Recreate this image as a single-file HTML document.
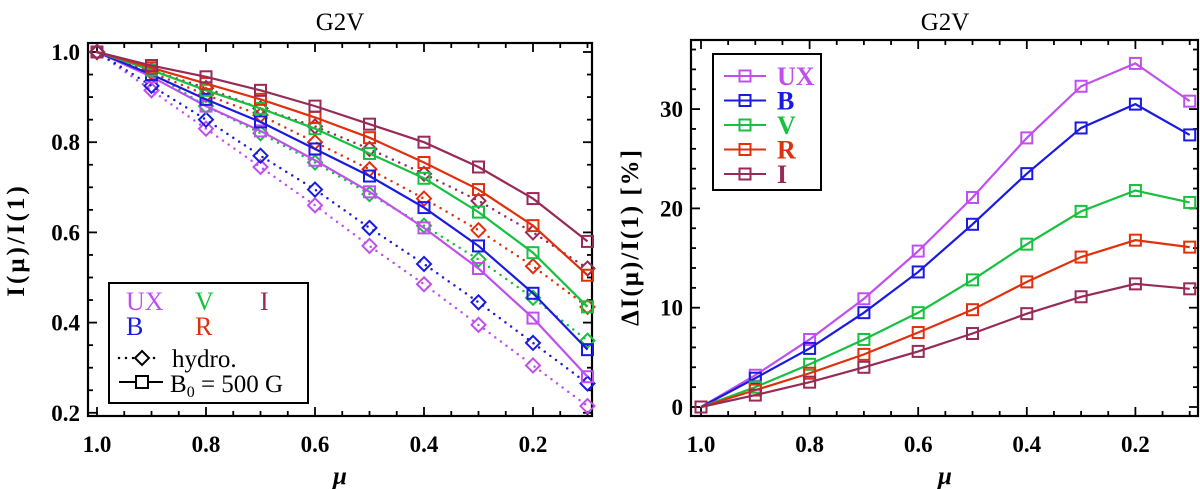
<!DOCTYPE html>
<html><head><meta charset="utf-8"><style>
body{margin:0;background:#fff}
svg{display:block}
text{font-family:"Liberation Serif",serif;fill:#000}
</style></head><body>
<svg id="chart" width="1200" height="489" viewBox="0 0 1200 489" xmlns="http://www.w3.org/2000/svg"></svg>
<script>
const mu = [1.0,0.9,0.8,0.7,0.6,0.5,0.4,0.3,0.2,0.1];
const bandNames = ["UX","B","V","R","I"];
const bandColors = ["#c050ee","#1a1ae0","#18c040","#e0300e","#982a58"];
const magUX = [1,0.945,0.88,0.825,0.76,0.69,0.61,0.52,0.41,0.28];
const magB  = [1,0.95,0.895,0.845,0.785,0.725,0.655,0.57,0.465,0.34];
const magV  = [1,0.96,0.915,0.875,0.83,0.775,0.72,0.645,0.555,0.435];
const magR  = [1,0.965,0.93,0.895,0.855,0.81,0.755,0.695,0.615,0.505];
const magI  = [1,0.97,0.945,0.915,0.88,0.84,0.80,0.745,0.675,0.58];
const hydUX = [1,0.915,0.83,0.745,0.66,0.57,0.485,0.395,0.305,0.215];
const hydB  = [1,0.925,0.85,0.77,0.695,0.61,0.53,0.445,0.355,0.265];
const hydV  = [1,0.955,0.88,0.82,0.755,0.685,0.615,0.54,0.455,0.36];
const hydR  = [1,0.955,0.905,0.86,0.80,0.74,0.675,0.605,0.525,0.435];
const hydI  = [1,0.96,0.92,0.875,0.835,0.785,0.73,0.67,0.60,0.52];
const dUX = [0,3.2,6.8,10.9,15.7,21.1,27.1,32.3,34.6,30.8];
const dB  = [0,2.9,5.9,9.5,13.6,18.4,23.5,28.1,30.5,27.4];
const dV  = [0,2.0,4.3,6.8,9.5,12.8,16.4,19.7,21.8,20.6];
const dR  = [0,1.7,3.4,5.3,7.5,9.8,12.6,15.1,16.8,16.1];
const dI  = [0,1.2,2.5,4.0,5.6,7.4,9.4,11.1,12.4,11.9];
const xTickLabels = ["1.0","0.8","0.6","0.4","0.2"];
const yTickLeft = ["0.2","0.4","0.6","0.8","1.0"];
const yTickRight = ["0","10","20","30"];

const NS="http://www.w3.org/2000/svg";
const svg=document.getElementById('chart');
function mk(tag,attrs,parent){const e=document.createElementNS(NS,tag);for(const k in attrs)e.setAttribute(k,attrs[k]);(parent||svg).appendChild(e);return e;}

const L={x0:88,x1:592,y0:43,y1:416};
const R={x0:691,x1:1198,y0:40,y1:416};
const lx=m=>97+(1-m)*545;
const ly=v=>52+(1-v)*451;
const rx=m=>701+(1-m)*543;
const ry=v=>407-v*9.93;

function frame(P,xs,ys,yMinor,yMajor,yMin,yMax,name){
  const g=mk('g',{});
  
  
  mk('rect',{x:P.x0,y:P.y0,width:P.x1-P.x0,height:P.y1-P.y0,fill:'none',stroke:'#000','stroke-width':2.2},g);
  for(let k=0;k<=20;k++){const m=1-k*0.05;const x=xs(m);if(x<P.x0||x>P.x1)continue;
    const len=(k%4===0)?9:5;
    mk('line',{x1:x,x2:x,y1:P.y1,y2:P.y1-len,stroke:'#000','stroke-width':1.8},g);
    mk('line',{x1:x,x2:x,y1:P.y0,y2:P.y0+len,stroke:'#000','stroke-width':1.8},g);}
  for(let v=yMin;v<=yMax+1e-9;v+=yMinor){const y=ys(v);if(y<P.y0||y>P.y1)continue;
    const maj=Math.abs(v/yMajor-Math.round(v/yMajor))<1e-6;const len=maj?9:5;
    mk('line',{x1:P.x0,x2:P.x0+len,y1:y,y2:y,stroke:'#000','stroke-width':1.8},g);
    mk('line',{x1:P.x1,x2:P.x1-len,y1:y,y2:y,stroke:'#000','stroke-width':1.8},g);}
  xTickLabels.forEach(t=>{const x=xs(parseFloat(t));
    const e=mk('text',{x:x,y:452,'font-size':23,'font-weight':'bold','text-anchor':'middle'},g);e.textContent=t;
    });
  return g;
}
frame(L,lx,ly,0.05,0.2,0.2,1.0,'left');
frame(R,rx,ry,2,10,0,36,'right');
yTickLeft.forEach(t=>{const e=mk('text',{x:80,y:ly(parseFloat(t))+8,'font-size':23,'font-weight':'bold','text-anchor':'end'});e.textContent=t;
  });
yTickRight.forEach(t=>{const e=mk('text',{x:683,y:ry(parseFloat(t))+8,'font-size':23,'font-weight':'bold','text-anchor':'end'});e.textContent=t;
  });

let t;
t=mk('text',{x:340,y:30,'font-size':25,'text-anchor':'middle'});t.textContent='G2V';

t=mk('text',{x:945,y:30,'font-size':25,'text-anchor':'middle'});t.textContent='G2V';

t=mk('text',{x:340,y:484,'font-size':25,'font-style':'italic','text-anchor':'middle','font-weight':'bold'});t.textContent='μ';

t=mk('text',{x:945,y:484,'font-size':25,'font-style':'italic','text-anchor':'middle','font-weight':'bold'});t.textContent='μ';

t=mk('text',{x:0,y:0,'font-size':25,'font-weight':'bold','letter-spacing':'3','text-anchor':'middle',transform:'translate(24,240) rotate(-90)'});t.textContent='I(μ)/I(1)';

t=mk('text',{x:0,y:0,'font-size':25,'font-weight':'bold','letter-spacing':'2','text-anchor':'middle',transform:'translate(638,237) rotate(-90)'});t.textContent='ΔI(μ)/I(1) [%]';


function sq(x,y,c,p){return mk('rect',{x:x-5.5,y:y-5.5,width:11,height:11,fill:'none',stroke:c,'stroke-width':2},p);}
function dia(x,y,c,p){return mk('polygon',{points:`${x},${y-7} ${x+7},${y} ${x},${y+7} ${x-7},${y}`,fill:'none',stroke:c,'stroke-width':2},p);}

const hydSeries=[hydUX,hydB,hydV,hydR,hydI];
const magSeries=[magUX,magB,magV,magR,magI];
const dSeries=[dUX,dB,dV,dR,dI];
function series(vals,xs,ys,c,dotted,marker,name){
  const g=mk('g',{});
  
  
  const pts=vals.map((v,i)=>xs(mu[i])+','+ys(v)).join(' ');
  const a={points:pts,fill:'none',stroke:c,'stroke-width':dotted?2.5:2.2};
  if(dotted){a['stroke-dasharray']='0 7';a['stroke-linecap']='round';}
  mk('polyline',a,g);
  vals.forEach((v,i)=>marker(xs(mu[i]),ys(v),c,g));
}
for(let i=0;i<5;i++) series(hydSeries[i],lx,ly,bandColors[i],true,dia,'hydro-'+bandNames[i]);
for(let i=0;i<5;i++) series(magSeries[i],lx,ly,bandColors[i],false,sq,'mag-'+bandNames[i]);
for(let i=0;i<5;i++) series(dSeries[i],rx,ry,bandColors[i],false,sq,'diff-'+bandNames[i]);

const lg=mk('g',{});


mk('rect',{x:109,y:283,width:199,height:120,fill:'#fff',stroke:'#000','stroke-width':2},lg);
const lpos=[[126,310],[126,335],[195,310],[195,335],[260,310]];
bandNames.forEach((n,i)=>{const e=mk('text',{x:lpos[i][0],y:lpos[i][1],'font-size':26,style:'fill:'+bandColors[i]},lg);e.textContent=n;
  });
mk('line',{x1:119,x2:158,y1:358,y2:358,stroke:'#000','stroke-width':2.5,'stroke-dasharray':'0 7','stroke-linecap':'round'},lg);
mk('rect',{x:134,y:351,width:16,height:14,fill:'#fff'},lg);
dia(142,358,'#000',lg);
t=mk('text',{x:172,y:367,'font-size':25,'font-family':'Liberation Sans'},lg);t.textContent='hydro.';

mk('line',{x1:119,x2:163,y1:382,y2:382,stroke:'#000','stroke-width':2},lg);
mk('rect',{x:136,y:376,width:12,height:12,fill:'#fff',stroke:'#000','stroke-width':2},lg);
t=mk('text',{x:170,y:392,'font-size':25,'font-family':'Liberation Sans'},lg);
t.innerHTML='B<tspan font-size="16" dy="5">0</tspan><tspan dy="-5"> = 500 G</tspan>';


const rg=mk('g',{});


mk('rect',{x:713,y:54,width:108,height:136,fill:'#fff',stroke:'#000','stroke-width':2},rg);
bandNames.forEach((n,i)=>{const y=76+i*24.5;
  mk('line',{x1:724,x2:766,y1:y,y2:y,stroke:bandColors[i],'stroke-width':2},rg);
  sq(745,y,bandColors[i],rg);
  const e=mk('text',{x:777,y:y+9,'font-size':26,'font-weight':'bold',style:'fill:'+bandColors[i]},rg);e.textContent=n;
  });
</script>
</body></html>
